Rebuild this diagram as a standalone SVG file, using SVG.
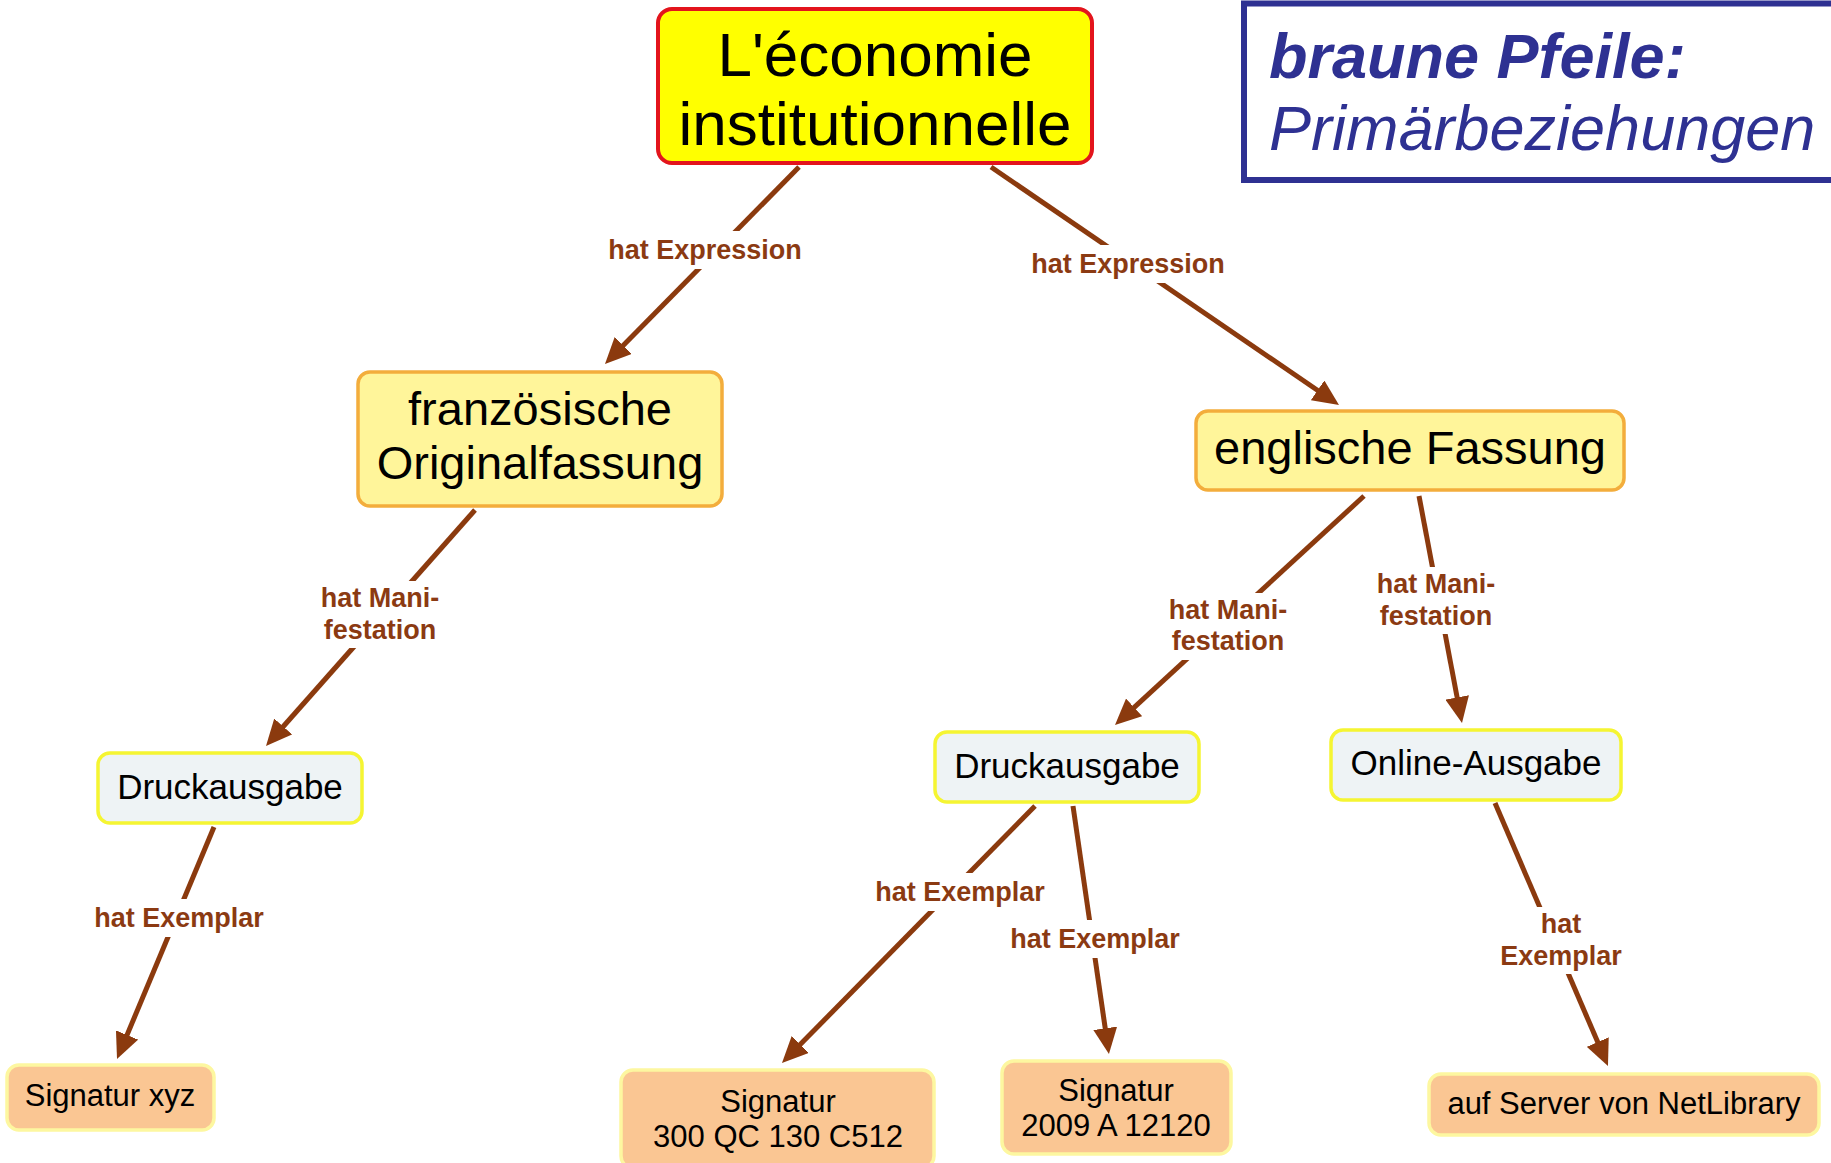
<svg xmlns="http://www.w3.org/2000/svg" width="1831" height="1163" viewBox="0 0 1831 1163">
<defs>
<style>
.edge{stroke:#8b3a0e;stroke-width:5;fill:none;marker-end:url(#arr)}
.lbl{font-family:"Liberation Sans",Arial,sans-serif;font-weight:bold;font-size:27px;fill:#8b3a12;text-anchor:middle}
.lblbg{fill:#ffffff}
.t{font-family:"Liberation Sans",Arial,sans-serif;fill:#000;text-anchor:middle}
.root{fill:#ffff00;stroke:#e3141c;stroke-width:4}
.expr{fill:#fff59a;stroke:#f3ad3c;stroke-width:3.5}
.mani{fill:#eef3f5;stroke:#f5f532;stroke-width:3.5}
.item{fill:#fac693;stroke:#fdf7a0;stroke-width:3.5}
.leg{font-family:"Liberation Sans",Arial,sans-serif;font-style:italic;font-size:63px;fill:#2e3192}
</style>
<marker id="arr" viewBox="0 0 26 24" refX="18" refY="12" markerWidth="26" markerHeight="24" markerUnits="userSpaceOnUse" orient="auto">
<path d="M0,0 L26,12 L0,24 z" fill="#8b3a0e"/>
</marker>
</defs>
<rect width="1831" height="1163" fill="#ffffff"/>

<g id="connectors">
<line class="edge" x1="799" y1="167" x2="610.6" y2="358.3"/>
<line class="edge" x1="991" y1="167" x2="1332.4" y2="400.5"/>
<line class="edge" x1="475" y1="510" x2="271.3" y2="740"/>
<line class="edge" x1="1364" y1="496" x2="1120.9" y2="719.6"/>
<line class="edge" x1="1419" y1="496" x2="1460.5" y2="715.1"/>
<line class="edge" x1="214" y1="827" x2="120.1" y2="1051.6"/>
<line class="edge" x1="1035" y1="806" x2="787.6" y2="1057.3"/>
<line class="edge" x1="1073" y1="806" x2="1107.8" y2="1046.1"/>
<line class="edge" x1="1495" y1="803" x2="1604.8" y2="1058.6"/>

<g id="lbl1"><rect class="lblbg" x="603" y="231" width="204" height="38"/><text class="lbl" x="705" y="259">hat Expression</text></g>
<g id="lbl2"><rect class="lblbg" x="1026" y="245" width="204" height="38"/><text class="lbl" x="1128" y="273">hat Expression</text></g>
<g id="lbl3"><rect class="lblbg" x="316" y="581" width="128" height="67"/><text class="lbl" x="380" y="607">hat Mani-</text><text class="lbl" x="380" y="639">festation</text></g>
<g id="lbl4"><rect class="lblbg" x="1164" y="593" width="128" height="67"/><text class="lbl" x="1228" y="619">hat Mani-</text><text class="lbl" x="1228" y="650">festation</text></g>
<g id="lbl5"><rect class="lblbg" x="1372" y="567" width="128" height="67"/><text class="lbl" x="1436" y="593">hat Mani-</text><text class="lbl" x="1436" y="625">festation</text></g>
<g id="lbl6"><rect class="lblbg" x="92" y="899" width="176" height="38"/><text class="lbl" x="179" y="927">hat Exemplar</text></g>
<g id="lbl7"><rect class="lblbg" x="872" y="873" width="176" height="38"/><text class="lbl" x="960" y="901">hat Exemplar</text></g>
<g id="lbl8"><rect class="lblbg" x="1007" y="920" width="176" height="38"/><text class="lbl" x="1095" y="948">hat Exemplar</text></g>
<g id="lbl9"><rect class="lblbg" x="1498" y="907" width="126" height="67"/><text class="lbl" x="1561" y="933">hat</text><text class="lbl" x="1561" y="965">Exemplar</text></g>
</g>

<g id="root">
<rect class="root" x="658" y="9" width="434" height="154" rx="14"/>
<text class="t" x="875" y="76" font-size="62">L'économie</text>
<text class="t" x="875" y="145" font-size="62">institutionnelle</text>
</g>

<g id="legend">
<rect x="1244" y="3.5" width="600" height="176.5" fill="#ffffff" stroke="#2e3192" stroke-width="6"/>
<text class="leg" x="1269" y="78" font-weight="bold">braune Pfeile:</text>
<text class="leg" x="1269" y="150">Primärbeziehungen</text>
</g>

<g id="franz">
<rect class="expr" x="358" y="372" width="364" height="134" rx="12"/>
<text class="t" x="540" y="425" font-size="47">französische</text>
<text class="t" x="540" y="479" font-size="47">Originalfassung</text>
</g>

<g id="engl">
<rect class="expr" x="1196" y="411" width="428" height="79" rx="12"/>
<text class="t" x="1410" y="464" font-size="47">englische Fassung</text>
</g>

<g id="druck1">
<rect class="mani" x="98" y="753" width="264" height="70" rx="12"/>
<text class="t" x="230" y="799" font-size="35">Druckausgabe</text>
</g>

<g id="druck2">
<rect class="mani" x="935" y="732" width="264" height="70" rx="12"/>
<text class="t" x="1067" y="778" font-size="35">Druckausgabe</text>
</g>

<g id="online">
<rect class="mani" x="1331" y="730" width="290" height="70" rx="12"/>
<text class="t" x="1476" y="775" font-size="35">Online-Ausgabe</text>
</g>

<g id="sigxyz">
<rect class="item" x="7" y="1065" width="207" height="65" rx="12"/>
<text class="t" x="110" y="1106" font-size="31">Signatur xyz</text>
</g>

<g id="sig300">
<rect class="item" x="621" y="1070" width="313" height="98" rx="12"/>
<text class="t" x="778" y="1112" font-size="31">Signatur</text>
<text class="t" x="778" y="1147" font-size="31">300 QC 130 C512</text>
</g>

<g id="sig2009">
<rect class="item" x="1002" y="1061" width="229" height="93" rx="12"/>
<text class="t" x="1116" y="1101" font-size="31">Signatur</text>
<text class="t" x="1116" y="1136" font-size="31">2009 A 12120</text>
</g>

<g id="netlib">
<rect class="item" x="1429" y="1074" width="390" height="61" rx="12"/>
<text class="t" x="1624" y="1114" font-size="31">auf Server von NetLibrary</text>
</g>
</svg>
